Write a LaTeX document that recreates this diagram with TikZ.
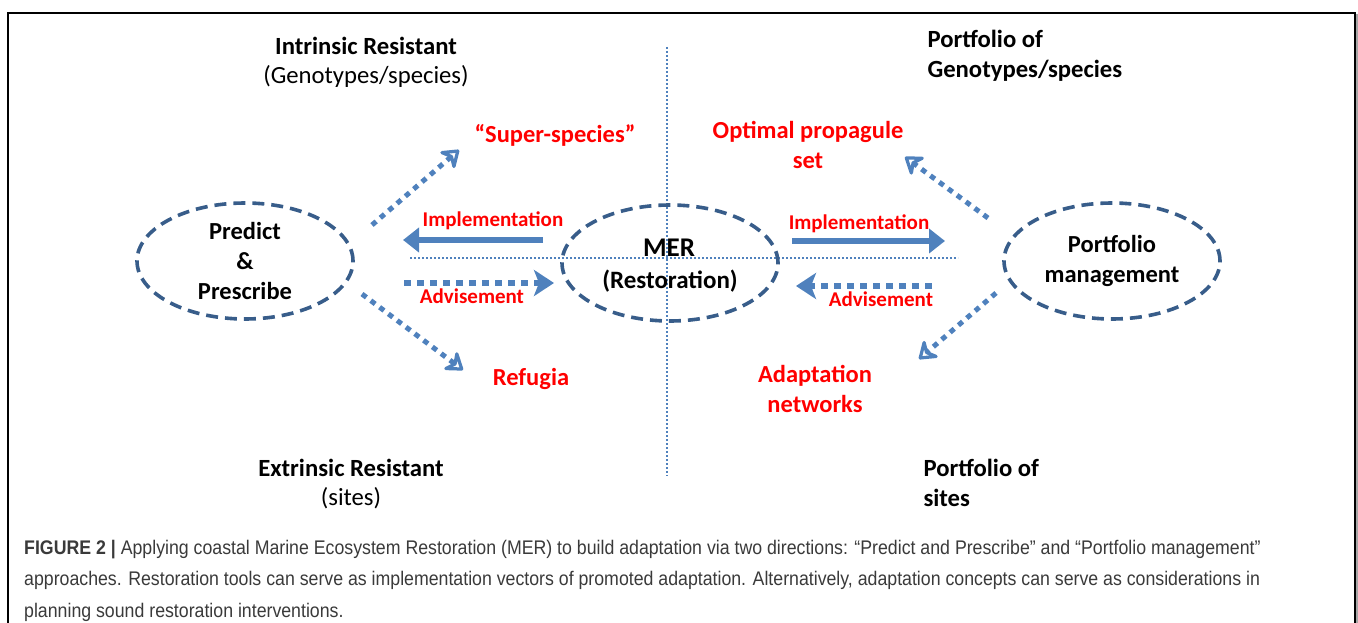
\documentclass[tikz,border=0pt]{standalone}
\usepackage{fontspec}
\setmainfont{Carlito}
\newfontfamily\capfont[FakeStretch=0.9]{Liberation Sans}
\usetikzlibrary{arrows.meta,shapes.geometric}
\definecolor{arrowblue}{HTML}{4F81BD}
\definecolor{ringblue}{HTML}{385D8A}
\definecolor{labred}{HTML}{FF0000}
\definecolor{capgray}{HTML}{3A3A3A}
\tikzset{
  ring/.style={ellipse, draw=ringblue, line width=3.6pt, dash pattern=on 12pt off 7pt, minimum width=216pt, minimum height=116pt, inner sep=0pt, align=center, font=\fontsize{24.5}{30}\selectfont\bfseries},
  head/.style={font=\fontsize{24.7}{30}\selectfont\bfseries, align=center},
  sub/.style={font=\fontsize{24.7}{30}\selectfont, align=center},
  redlab/.style={font=\fontsize{24.5}{30}\selectfont\bfseries, text=labred, align=center},
  smallred/.style={font=\fontsize{21}{24}\selectfont\bfseries, text=labred},
  solidarrow/.style={draw=arrowblue, line width=6.5pt, -{Triangle[length=16pt,width=24pt]}},
  dotarrow/.style={draw=arrowblue, line width=6.5pt, dash pattern=on 7pt off 6pt, -{Stealth[length=20pt,width=26pt,inset=5pt]}},
  diagarrow/.style={draw=arrowblue, line width=5pt, dash pattern=on 5.5pt off 5.5pt, -{Stealth[open,round,length=20pt,width=28pt,inset=7pt,line width=5pt]}},
  guide/.style={draw=arrowblue, line width=1.6pt, dash pattern=on 1.6pt off 2.4pt},
}
\begin{document}
\begin{tikzpicture}[x=1pt,y=-1pt]
\useasboundingbox (0,0) rectangle (1358,623);
% frame
\draw[gray!70, line width=2pt] (1356.5,14) -- (1356.5,623);
\draw[black, line width=1.5pt] (8,623) -- (8,13) -- (1355,13) -- (1355,623);
% guides
\coordinate (vtop) at (667,47);
\coordinate (vbot) at (667,476);
\coordinate (hl) at (410,258);
\coordinate (hr) at (958,258);
\draw[guide] (vtop) -- (vbot);
\draw[guide] (hl) -- (hr);
% ellipses
\node[ring] (pp) at (245,261) {Predict\\\&\\Prescribe};
\node[ring] (mer) at (670,263) {};
\node[font=\fontsize{27}{30}\selectfont\bfseries] (mert) at (669,248) {MER};
\node[font=\fontsize{25}{30}\selectfont\bfseries] (rest) at (670,281) {(Restoration)};
\node[ring] (pm) at (1112,261) {Portfolio\\management};
% corner headings
\node[head] (ir) at (366,46) {Intrinsic Resistant};
\node[sub] (gs) at (366,76) {(Genotypes/species)};
\node[head] (er) at (351,468) {Extrinsic Resistant};
\node[sub] (st) at (351,498) {(sites)};
\node[head, align=left, anchor=base west] (pg) at (924,78) {Portfolio of\\Genotypes/species};
\node[head, align=left, anchor=base west] (ps) at (920,506) {Portfolio of\\sites};
% red labels
\node[redlab] (ss) at (555,135) {“Super-species”};
\node[redlab] (op) at (808,145) {Optimal propagule\\set};
\node[redlab] (rf) at (531,379) {Refugia};
\node[redlab] (an) at (815,389) {Adaptation\\networks};
\node[smallred] (im1) at (493,221) {Implementation};
\node[smallred] (ad1) at (472,296) {Advisement};
\node[smallred] (im2) at (859,224) {Implementation};
\node[smallred] (ad2) at (881,299) {Advisement};
% arrows
\coordinate (a1s) at (543,240); \coordinate (a1e) at (403,240);
\coordinate (a2s) at (404,283); \coordinate (a2e) at (554,283);
\coordinate (a3s) at (792,241); \coordinate (a3e) at (945,241);
\coordinate (a4s) at (932,286); \coordinate (a4e) at (796,286);
\draw[solidarrow] (a1s) -- (a1e);
\draw[dotarrow] (a2s) -- (a2e);
\draw[solidarrow] (a3s) -- (a3e);
\draw[dotarrow] (a4s) -- (a4e);
\coordinate (d1s) at (372,225); \coordinate (d1e) at (459,150);
\coordinate (d2s) at (362,294); \coordinate (d2e) at (463,370);
\coordinate (d3s) at (988,218); \coordinate (d3e) at (905,157);
\coordinate (d4s) at (996,293); \coordinate (d4e) at (919,359);
\draw[diagarrow] (d1s) -- (d1e);
\draw[diagarrow] (d2s) -- (d2e);
\draw[diagarrow] (d3s) -- (d3e);
\draw[diagarrow] (d4s) -- (d4e);
% caption
\node[anchor=base west, align=left, text=capgray, font=\capfont\fontsize{19.7}{31.5}\selectfont, inner sep=0pt] (cap) at (24,617)
{\textbf{FIGURE 2 |} Applying coastal Marine Ecosystem Restoration (MER) to build adaptation via two directions: “Predict and Prescribe” and “Portfolio management”\\
approaches. Restoration tools can serve as implementation vectors of promoted adaptation. Alternatively, adaptation concepts can serve as considerations in\\
planning sound restoration interventions.};
\end{tikzpicture}
\end{document}
